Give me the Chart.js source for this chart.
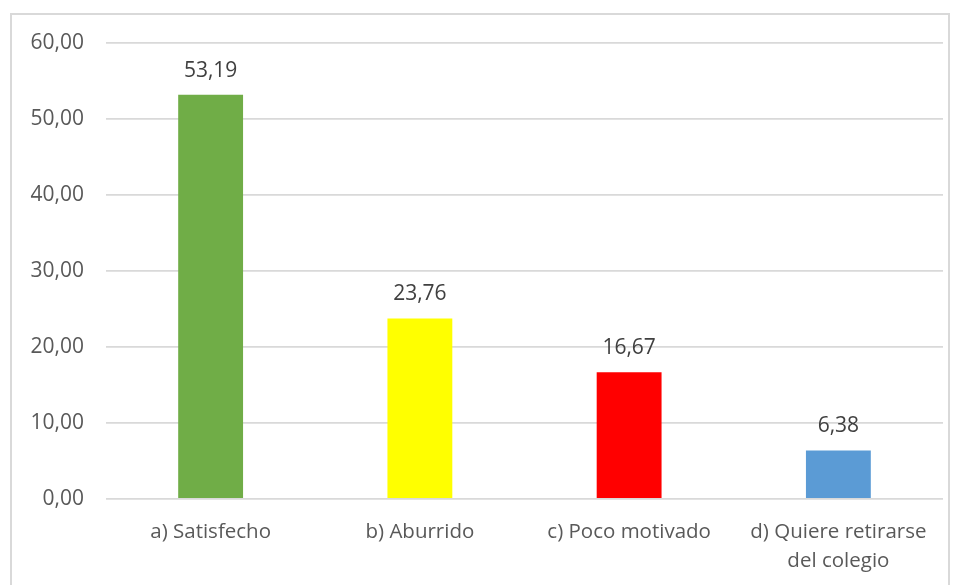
<!DOCTYPE html>
<html>
<head>
<meta charset="utf-8">
<script src="https://cdn.jsdelivr.net/npm/chart.js@4"></script>
<style>
  html, body { margin: 0; padding: 0; background: #fff; overflow: hidden; }
  #wrap { position: relative; width: 958px; height: 585px; }
  #frame { position: absolute; left: 10px; top: 13px; width: 940px; height: 600px; border: 2px solid #d9d9d9; box-sizing: border-box; }
  canvas { position: absolute; left: 0; top: 0; }
</style>
</head>
<body>
<div id="wrap">
  <div id="frame"></div>
  <canvas id="myChart" width="958" height="585"></canvas>
</div>
<script>
const categories = [
  "a) Satisfecho",
  "b) Aburrido",
  "c) Poco motivado",
  ["d) Quiere retirarse", "del colegio"],
]
const values = [53.19, 23.76, 16.67, 6.38]
const barColors = ["#70AD47", "#FFFF00", "#FF0000", "#5B9BD5"]
const yTicks = [0, 10, 20, 30, 40, 50, 60]

const fmt = v => v.toFixed(2).replace('.', ',')
const FONT = "'Open Sans', sans-serif"

// draws the value above each bar
const valueLabels = {
  id: 'valueLabels',
  afterDatasetsDraw(chart) {
    const ctx = chart.ctx
    const meta = chart.getDatasetMeta(0)
    ctx.save()
    ctx.font = "21px " + FONT
    ctx.fillStyle = "#404040"
    ctx.textAlign = 'center'
    ctx.textBaseline = 'middle'
    meta.data.forEach((bar, i) => {
      ctx.fillText(fmt(values[i]), bar.x, bar.y - 24)
    })
    ctx.restore()
  }
}

const ctx = document.getElementById('myChart').getContext('2d')

const myChart = new Chart(ctx, {
  type: 'bar',
  data: {
    labels: categories,
    datasets: [{
      data: values,
      backgroundColor: barColors,
      categoryPercentage: 1,
      barPercentage: 0.31,
    }],
  },
  options: {
    responsive: false,
    animation: false,
    layout: { padding: { left: 20, right: 15, top: 43, bottom: 0 } },
    plugins: { legend: { display: false }, tooltip: { enabled: false } },
    scales: {
      x: {
        grid: { display: false, drawTicks: false },
        border: { display: false },
        ticks: { color: "#595959", font: { family: FONT, size: 20.5, lineHeight: 1.45 }, padding: 18, maxRotation: 0 },
        afterFit(scale) { scale.height = 86 },
      },
      y: {
        min: 0,
        max: 60,
        afterBuildTicks(scale) { scale.ticks = yTicks.map(v => ({ value: v })) },
        grid: { color: "#d9d9d9", lineWidth: 1.8, drawTicks: false },
        border: { display: false },
        ticks: { color: "#595959", font: { family: FONT, size: 21 }, padding: 22, callback: v => fmt(v) },
        afterFit(scale) { scale.width = 86 },
      },
    },
  },
  plugins: [valueLabels],
})
</script>
</body>
</html>
